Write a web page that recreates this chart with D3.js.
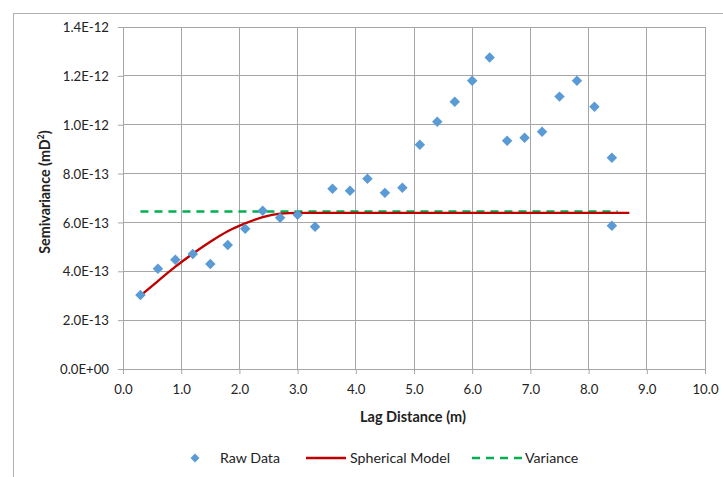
<!DOCTYPE html>
<html><head><meta charset="utf-8">
<script src="https://cdn.jsdelivr.net/npm/d3@7"></script>
<style>body{margin:0;background:#fff}svg{display:block;font-family:Lato,"Liberation Sans",sans-serif}</style>
</head><body>
<svg id="c" width="723" height="477"></svg>
<script>
const lagX = [0.3,0.6,0.9,1.2,1.5,1.8,2.1,2.4,2.7,3.0,3.3,3.6,3.9,4.2,4.5,4.8,5.1,5.4,5.7,6.0,6.3,6.6,6.9,7.2,7.5,7.8,8.1,8.4,8.4];
const rawY = [3.03e-13,4.10e-13,4.47e-13,4.71e-13,4.30e-13,5.08e-13,5.74e-13,6.48e-13,6.19e-13,6.31e-13,5.82e-13,7.38e-13,7.30e-13,7.79e-13,7.21e-13,7.42e-13,9.18e-13,1.012e-12,1.094e-12,1.18e-12,1.275e-12,9.34e-13,9.47e-13,9.71e-13,1.115e-12,1.18e-12,1.074e-12,8.65e-13,5.86e-13];
const modelX = [0.3,0.6,0.9,1.2,1.5,1.8,2.1,2.4,2.7,3.0,8.7];
const modelY = [3.0e-13,3.6e-13,4.19e-13,4.72e-13,5.21e-13,5.64e-13,5.96e-13,6.22e-13,6.36e-13,6.39e-13,6.39e-13];
const varianceX = [0.3,8.5];
const varianceY = [6.45e-13,6.45e-13];
const xTicks = [0,1,2,3,4,5,6,7,8,9,10];
const yTicks = [0,2e-13,4e-13,6e-13,8e-13,1e-12,1.2e-12,1.4e-12];
const yTickLabels = ["0.0E+00","2.0E-13","4.0E-13","6.0E-13","8.0E-13","1.0E-12","1.2E-12","1.4E-12"];
const legendLabels = ["Raw Data","Spherical Model","Variance"];

const svg = d3.select("#c");
const L=123, R=705, T=27, B=369;
const x = d3.scaleLinear().domain([0,10]).range([L,R]);
const y = d3.scaleLinear().domain([0,1.4e-12]).range([B,T]);
const grid="#a6a6a6";

svg.append("rect").attr("x",13.5).attr("y",13.5).attr("width",720).attr("height",470)
  .attr("fill","none").attr("stroke","#b0b0b0");

// gridlines
svg.append("g").selectAll("line").data(xTicks.slice(1)).join("line")
  .attr("x1",d=>x(d)).attr("x2",d=>x(d)).attr("y1",T).attr("y2",B)
  .attr("stroke",grid).attr("stroke-width",1).attr("shape-rendering","crispEdges");
svg.append("g").selectAll("line").data(yTicks.slice(1)).join("line")
  .attr("x1",L).attr("x2",R).attr("y1",d=>y(d)).attr("y2",d=>y(d))
  .attr("stroke",grid).attr("stroke-width",1).attr("shape-rendering","crispEdges");

// axes
const xa = svg.append("g").attr("transform",`translate(0,${B})`)
  .call(d3.axisBottom(x).tickValues(xTicks).tickFormat(d3.format(".1f")).tickSize(5).tickPadding(11));
const ya = svg.append("g").attr("transform",`translate(${L},0)`)
  .call(d3.axisLeft(y).tickValues(yTicks).tickFormat((d,i)=>yTickLabels[i]).tickSize(5).tickPadding(9));
[xa,ya].forEach(a=>{
  a.select(".domain").attr("stroke",grid);
  a.selectAll(".tick line").attr("stroke",grid);
  a.selectAll("text").attr("font-size",13.2).attr("fill","#222").attr("font-family","Lato,sans-serif");
});
ya.selectAll("text").attr("dy","0.35em");

// titles
svg.append("text").attr("x",413).attr("y",417).attr("dy","0.35em").attr("text-anchor","middle")
  .attr("font-size",14.5).attr("font-weight","bold").attr("fill","#222").text("Lag Distance (m)");
const yt = svg.append("text").attr("transform","translate(45,192) rotate(-90)").attr("dy","0.35em").attr("text-anchor","middle")
  .attr("font-size",14.3).attr("font-weight","bold").attr("fill","#222");
yt.append("tspan").text("Semivariance  (mD");
yt.append("tspan").attr("font-size",9).attr("dy",-6).text("2");
yt.append("tspan").attr("dy",6).text(")");

// variance
const line = d3.line().x(d=>x(d[0])).y(d=>y(d[1]));
svg.append("path").datum(varianceX.map((v,i)=>[v,varianceY[i]])).attr("d",line)
  .attr("fill","none").attr("stroke","#00B050").attr("stroke-width",2.4).attr("stroke-dasharray","8,6");
// model
svg.append("path").datum(modelX.map((v,i)=>[v,modelY[i]]))
  .attr("d",d3.line().x(d=>x(d[0])).y(d=>y(d[1])).curve(d3.curveMonotoneX))
  .attr("fill","none").attr("stroke","#C00000").attr("stroke-width",2.4);

// points
svg.append("g").selectAll("path").data(lagX.map((v,i)=>[v,rawY[i]])).join("path")
  .attr("d",d3.symbol().type(d3.symbolSquare).size(55))
  .attr("transform",d=>`translate(${x(d[0])},${y(d[1])}) rotate(45)`)
  .attr("fill","#5B9BD5");

// legend
const ly=458;
svg.append("path").attr("d",d3.symbol().type(d3.symbolSquare).size(40)).attr("transform",`translate(195,${ly}) rotate(45)`).attr("fill","#5B9BD5");
svg.append("line").attr("x1",306).attr("x2",346).attr("y1",ly).attr("y2",ly).attr("stroke","#C00000").attr("stroke-width",2.4);
svg.append("line").attr("x1",472).attr("x2",524).attr("y1",ly).attr("y2",ly).attr("stroke","#00B050").attr("stroke-width",2.4).attr("stroke-dasharray","8,6");
const lx=[220,350,525];
legendLabels.forEach((t,i)=>svg.append("text").attr("x",lx[i]).attr("y",ly).attr("dy","0.35em")
  .attr("font-size",14.2).attr("fill","#222").text(t));
</script>
</body></html>
